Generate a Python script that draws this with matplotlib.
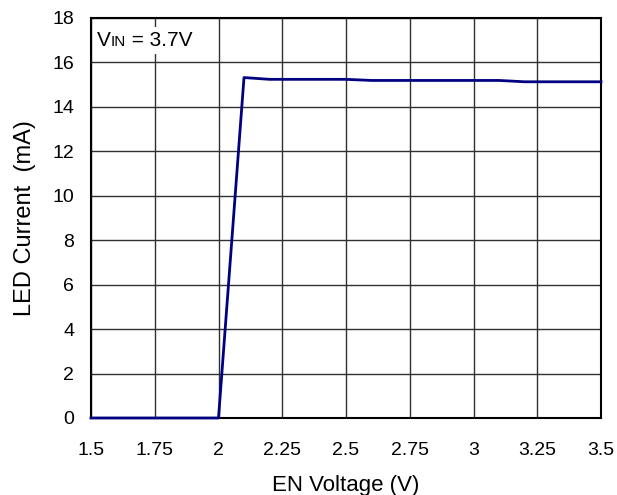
import matplotlib
matplotlib.use("Agg")
import matplotlib.pyplot as plt
from matplotlib.offsetbox import TextArea, HPacker, AnchoredOffsetbox

plt.rcParams['font.family'] = ['Liberation Sans', 'DejaVu Sans']

en_voltage = [1.5, 1.6, 1.7, 1.8, 1.9, 2.0, 2.1, 2.2, 2.3, 2.4, 2.5, 2.6,
              2.7, 2.8, 2.9, 3.0, 3.1, 3.2, 3.3, 3.4, 3.5]
led_current = [0, 0, 0, 0, 0, 0, 15.32, 15.24, 15.24, 15.24, 15.24, 15.19,
               15.19, 15.19, 15.19, 15.19, 15.19, 15.13, 15.13, 15.13, 15.13]
x_ticks = [1.5, 1.75, 2, 2.25, 2.5, 2.75, 3, 3.25, 3.5]
x_labels = ["1.5", "1.75", "2", "2.25", "2.5", "2.75", "3", "3.25", "3.5"]
y_ticks = [0, 2, 4, 6, 8, 10, 12, 14, 16, 18]

fig = plt.figure(figsize=(6.17, 4.95), dpi=100)
ax = fig.add_axes([91/617, 1 - 418/495, 510/617, 400/495])

ax.plot(en_voltage, led_current, color='#000080', lw=2.0, zorder=3, clip_on=False)

ax.set_xlim(1.5, 3.5)
ax.set_ylim(0, 18)
ax.set_xticks(x_ticks)
ax.set_xticklabels(x_labels)
ax.set_yticks(y_ticks)
ax.tick_params(length=0, labelsize=14)
ax.tick_params(axis='x', pad=17)
ax.tick_params(axis='y', pad=12)
ax.grid(True, color='#303030', lw=1.0)
ax.set_axisbelow(True)
for s in ax.spines.values():
    s.set_color('black')
    s.set_linewidth(1.5)

ax.set_xlabel("EN Voltage (V)", fontsize=16, labelpad=12)
ax.set_ylabel("LED Current  (mA)", fontsize=17, labelpad=12)

t1 = TextArea("V", textprops=dict(fontsize=15))
t2 = TextArea("IN", textprops=dict(fontsize=11))
t3 = TextArea(" = 3.7V", textprops=dict(fontsize=15))
box = HPacker(children=[t1, t2, t3], align="baseline", pad=0, sep=0)
anch = AnchoredOffsetbox(loc='upper left', child=box, pad=0.3, borderpad=0,
                         frameon=True, bbox_to_anchor=(0.004, 0.9775),
                         bbox_transform=ax.transAxes)
anch.patch.set_facecolor('white')
anch.patch.set_edgecolor('none')
anch.zorder = 2
ax.add_artist(anch)

fig.savefig("out.png", dpi=100)
